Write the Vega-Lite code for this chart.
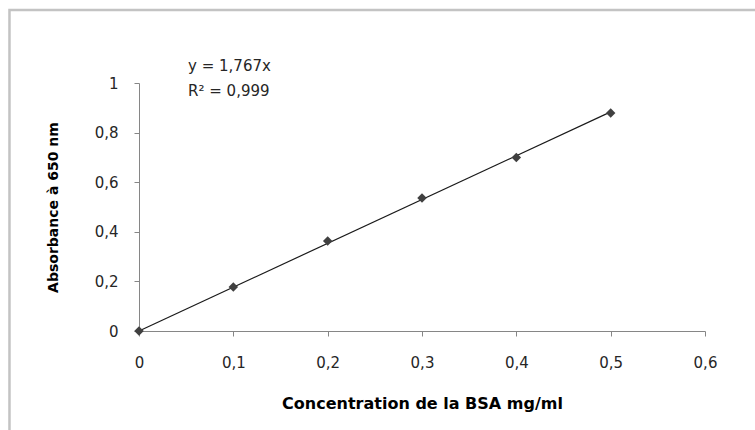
{
  "$schema": "https://vega.github.io/schema/vega-lite/v6.json",
  "autosize": "none",
  "width": 566,
  "height": 248,
  "padding": {"left": 139, "top": 83, "right": 50, "bottom": 99},
  "background": "white",
  "config": {
    "view": {"stroke": null},
    "font": "DejaVu Sans",
    "axis": {
      "grid": false,
      "domainColor": "#868686",
      "tickColor": "#868686",
      "tickSize": 5,
      "labelFlush": false,
      "labelColor": "#262626",
      "labelFont": "DejaVu Sans",
      "labelFontSize": 15,
      "titleFont": "DejaVu Sans",
      "titleFontWeight": "bold",
      "titleColor": "#000000"
    }
  },
  "datasets": {
    "points": [
      {"conc": 0, "abs": 0},
      {"conc": 0.1, "abs": 0.177},
      {"conc": 0.2, "abs": 0.363},
      {"conc": 0.3, "abs": 0.536},
      {"conc": 0.4, "abs": 0.70},
      {"conc": 0.5, "abs": 0.879}
    ],
    "fit": [
      {"conc": 0, "abs": 0},
      {"conc": 0.5, "abs": 0.8835}
    ],
    "notes": [
      {"conc": 0.052, "abs": 1.068, "label": "y = 1,767x"},
      {"conc": 0.052, "abs": 0.968, "label": "R² = 0,999"}
    ]
  },
  "layer": [
    {
      "data": {"values": [{}]},
      "mark": {"type": "rect", "fill": null, "stroke": "#c3c3c3", "strokeWidth": 2.5},
      "encoding": {
        "x": {"datum": -0.1373, "type": "quantitative", "scale": {"domain": [0, 0.6], "nice": false}},
        "x2": {"datum": 0.75},
        "y": {"datum": 1.2944, "type": "quantitative", "scale": {"domain": [0, 1], "nice": false}},
        "y2": {"datum": -0.6}
      }
    },
    {
      "data": {"name": "fit"},
      "mark": {"type": "line", "color": "#1a1a1a", "strokeWidth": 1.2},
      "encoding": {
        "x": {"field": "conc", "type": "quantitative"},
        "y": {"field": "abs", "type": "quantitative"}
      }
    },
    {
      "data": {"name": "points"},
      "mark": {"type": "point", "shape": "diamond", "filled": true, "color": "#404040", "size": 90, "opacity": 1},
      "encoding": {
        "x": {
          "field": "conc",
          "type": "quantitative",
          "scale": {"domain": [0, 0.6], "nice": false},
          "axis": {
            "title": "Concentration de la BSA mg/ml",
            "titleFontSize": 16,
            "values": [0, 0.1, 0.2, 0.3, 0.4, 0.5, 0.6],
            "labelExpr": "replace(format(datum.value, '.1~f'), '.', ',')",
            "labelPadding": 19,
            "titlePadding": 25
          }
        },
        "y": {
          "field": "abs",
          "type": "quantitative",
          "scale": {"domain": [0, 1], "nice": false},
          "axis": {
            "title": "Absorbance à 650 nm",
            "titleFontSize": 14,
            "values": [0, 0.2, 0.4, 0.6, 0.8, 1],
            "labelExpr": "replace(format(datum.value, '.1~f'), '.', ',')",
            "labelPadding": 16,
            "titlePadding": 34
          }
        }
      }
    },
    {
      "data": {"name": "notes"},
      "mark": {"type": "text", "align": "left", "baseline": "middle", "fontSize": 15, "color": "#262626", "font": "DejaVu Sans"},
      "encoding": {
        "x": {"field": "conc", "type": "quantitative"},
        "y": {"field": "abs", "type": "quantitative"},
        "text": {"field": "label"}
      }
    }
  ]
}
